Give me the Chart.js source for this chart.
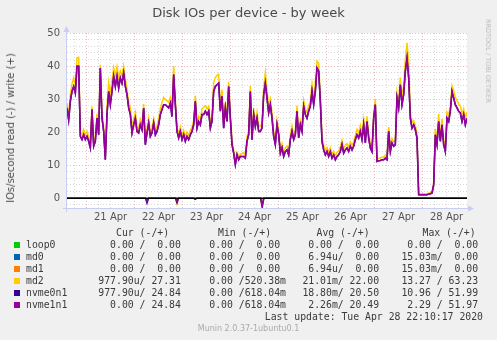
<!DOCTYPE html>
<html>
<head>
<meta charset="utf-8">
<script src="https://cdn.jsdelivr.net/npm/chart.js@4/dist/chart.umd.min.js"></script>
<style>
html, body { margin: 0; padding: 0; background: #f0f0f0; }
#wrap { position: relative; width: 497px; height: 340px; overflow: hidden; font-family: "DejaVu Sans", sans-serif; }
#wrap canvas { position: absolute; left: 0; top: 0; }
.t { position: absolute; white-space: pre; color: #333; line-height: 12px; }
.mono { font-family: "DejaVu Sans Mono", monospace; font-size: 9.8px; color: #3a3a3a; }
.sq { position: absolute; width: 6px; height: 6px; }
</style>
</head>
<body>
<div id="wrap">
  <canvas id="chart" width="497" height="340"></canvas>
  <div class="t" style="left:0;width:497px;top:7px;text-align:center;font-size:13px;color:#4a4a4a">Disk IOs per device - by week</div>
  <div class="t" style="left:11px;top:128px;font-size:10px;color:#4a4a4a;transform:translate(-50%,-50%) rotate(-90deg)">IOs/second read (-) / write (+)</div>
  <div class="t" style="left:488px;top:61px;font-size:6.5px;color:#bbb;transform:translate(-50%,-50%) rotate(90deg)">RRDTOOL / TOBI OETIKER</div>
  <div class="t" style="left:0;width:497px;top:323px;text-align:center;font-size:8px;color:#aaa">Munin 2.0.37-1ubuntu0.1</div>
  <div id="legend"></div>
</div>
<script>
// time axis: hours since 20 Apr 00:00, one sample every 50 minutes
const startHour = 14.2;
const stepHour = 50 / 60;
const xMin = 14.2, xMax = 214.2;

// writes (+), IOs/second
const nvme1n1Write = [
  27.3, 23.7, 29.3, 32.3, 33.8, 31.8, 39.9, 39.9, 18.7, 17.7,
  19.2, 17.7, 18.7, 17.2, 15.2, 26.8, 15.7, 17.2, 24.2, 19.2,
  39.4, 24.2, 20.2, 11.6, 25.3, 32.3, 28.3, 32.3, 36.9, 33.8,
  36.9, 33.3, 36.4, 34.8, 37.9, 33.8, 31.3, 27.3, 25.3, 19.7,
  22.2, 24.2, 20.2, 19.7, 22.2, 20.7, 27.3, 16.2, 19.7, 22.7,
  18.7, 19.7, 22.7, 19.2, 20.2, 22.2, 25.3, 26.8, 28.3, 28.3,
  27.8, 27.3, 28.8, 24.7, 37.4, 28.3, 20.2, 18.2, 20.2, 17.7,
  19.2, 17.2, 18.7, 17.7, 19.2, 20.2, 22.2, 29.3, 21.2, 23.2,
  22.2, 25.3, 25.3, 26.3, 25.3, 26.3, 21.2, 23.2, 32.3, 33.8,
  34.3, 34.8, 26.3, 30.8, 21.2, 27.3, 23.2, 33.8, 24.2, 16.2,
  13.6, 10.1, 13.1, 11.6,
  12.6, 12.6, 12.6, 12.1, 17.2, 19.2, 32.3, 17.7, 25.3, 21.7,
  24.2, 20.2, 20.2, 21.2, 31.3, 34.8, 30.3, 25.8, 28.3, 24.2,
  18.7, 16.2, 22.2, 19.2, 13.6, 15.2, 12.6, 14.1, 14.6, 13.1,
  17.7, 20.2, 17.7, 19.2, 26.3, 18.2, 22.2, 20.2, 27.8, 25.3,
  24.2, 26.3, 27.8, 32.3, 28.3, 32.3, 39.4, 38.4, 29.3, 17.2,
  14.6, 13.1, 14.1, 12.6, 14.1, 12.1, 13.1, 11.6, 12.6, 13.1,
  14.1, 16.2, 13.6, 14.6, 15.2, 14.1, 15.7, 14.6, 15.7, 17.7,
  19.2, 18.2, 20.2, 17.7, 22.2, 16.7, 23.2, 18.2, 15.2, 14.1,
  24.2, 28.3, 11.1, 11.3, 11.4, 11.6, 11.6, 12.1, 11.6, 20.2,
  14.1, 16.7, 15.7, 16.2, 30.3, 27.3, 34.3, 28.3, 31.3, 38.4,
  42.4, 36.4, 24.2, 21.2, 22.2, 20.7, 18.2, 1.0, 1.0, 1.0,
  1.0, 1.0, 1.0, 1.2, 1.3, 1.5, 4.0, 19.2, 16.2, 23.2,
  17.2, 22.2, 16.2, 14.1, 24.2, 23.2, 26.3, 32.3, 30.3, 28.3,
  27.3, 26.3, 25.8, 23.2, 25.3, 22.2, 24.2
];
const nvme0n1Write = nvme1n1Write;
const md2Write = [
  28.8, 25.0, 31.5, 34.5, 36.4, 33.8, 42.4, 42.6, 20.0, 19.2,
  20.8, 19.0, 20.2, 18.5, 16.5, 27.8, 17.0, 18.5, 25.5, 20.5,
  40.4, 25.8, 21.5, 12.5, 27.5, 35.0, 31.5, 35.5, 39.5, 37.0,
  39.8, 36.5, 38.5, 37.0, 39.9, 36.0, 33.0, 29.0, 27.5, 21.0,
  24.0, 26.0, 21.8, 21.2, 23.8, 22.0, 28.5, 17.5, 21.0, 24.2,
  20.0, 21.2, 24.0, 20.5, 21.8, 24.0, 27.0, 29.0, 30.5, 29.8,
  29.5, 29.0, 30.5, 26.5, 40.0, 30.0, 21.5, 19.5, 21.5, 19.0,
  20.5, 18.5, 20.0, 19.0, 20.5, 21.5, 23.5, 31.0, 22.5, 24.8,
  23.8, 27.0, 27.5, 28.0, 27.0, 27.8, 22.5, 25.0, 35.0, 36.5,
  37.2, 37.5, 28.0, 32.8, 22.8, 29.0, 24.5, 35.2, 25.5, 17.5,
  14.5, 11.0, 13.8, 12.5,
  13.3, 13.5, 13.8, 13.0, 18.5, 20.5, 34.0, 19.0, 26.8, 23.0,
  26.0, 21.5, 21.8, 22.5, 33.5, 38.0, 32.5, 28.0, 30.0, 25.8,
  20.0, 17.5, 23.5, 20.5, 14.8, 16.5, 13.8, 15.2, 15.8, 14.2,
  19.0, 21.8, 19.2, 20.5, 28.0, 19.5, 23.5, 21.8, 29.5, 27.0,
  26.0, 28.0, 29.5, 34.5, 30.0, 34.8, 41.5, 40.8, 31.0, 18.5,
  16.0, 14.5, 15.3, 13.8, 15.2, 13.3, 14.2, 12.8, 13.8, 14.3,
  15.5, 17.5, 15.0, 16.0, 16.5, 15.5, 17.0, 16.0, 17.0, 19.0,
  20.8, 19.8, 22.0, 19.5, 23.8, 18.0, 24.8, 19.5, 16.5, 15.3,
  25.5, 30.0, 12.0, 12.0, 12.2, 12.4, 12.5, 13.0, 12.5, 21.5,
  15.3, 18.0, 17.0, 17.5, 32.0, 29.0, 36.5, 30.5, 34.0, 42.0,
  47.0, 41.0, 26.0, 22.8, 23.5, 22.0, 19.5, 1.3, 1.3, 1.3,
  1.3, 1.3, 1.3, 1.5, 1.6, 1.8, 4.5, 21.0, 17.5, 25.5,
  18.5, 24.0, 17.5, 15.5, 26.0, 25.0, 28.0, 34.0, 32.5, 30.5,
  29.5, 28.5, 28.0, 25.5, 27.0, 24.0, 26.0
];

// reads (-), shown below zero; hours and values
const readHours   = [14.2, 53.4, 54.2, 55.0, 68.4, 69.2, 70.0, 77.5, 78.3, 79.2, 111.0, 111.8, 112.6, 214.2];
const md2Read     = [0, 0, -0.4, 0, 0, -1.8, 0, 0, -0.2, 0, 0, -3.0, 0, 0];
const nvme0n1Read = [0, 0, -1.5, 0, 0, -1.4, 0, 0, -0.4, 0, 0, -2.6, 0, 0];
const nvme1n1Read = [0, 0, -0.9, 0, 0, -0.9, 0, 0, -0.2, 0, 0, -2.2, 0, 0];
const idleHours   = [14.2, 214.2];
const idleValues  = [0, 0];

// legend table
const names = ['loop0', 'md0', 'md1', 'md2', 'nvme0n1', 'nvme1n1'];
const colors = ['#00CC00', '#0066B3', '#FF8000', '#FFCC00', '#330099', '#990099'];
const curCol = ['  0.00 /  0.00', '  0.00 /  0.00', '  0.00 /  0.00', '977.90u/ 27.31', '977.90u/ 24.84', '  0.00 / 24.84'];
const minCol = ['  0.00 /  0.00', '  0.00 /  0.00', '  0.00 /  0.00', '  0.00 /520.38m', '  0.00 /618.04m', '  0.00 /618.04m'];
const avgCol = ['  0.00 /  0.00', '  6.94u/  0.00', '  6.94u/  0.00', ' 21.01m/ 22.00', ' 18.80m/ 20.50', '  2.26m/ 20.49'];
const maxCol = ['  0.00 /  0.00', ' 15.03m/  0.00', ' 15.03m/  0.00', ' 13.27 / 63.23', ' 10.96 / 51.99', '  2.29 / 51.97'];
const lastUpdate = 'Last update: Tue Apr 28 22:10:17 2020';

// ticks
const xTickHours = [];
for (let h = 18; h <= 210; h += 6) xTickHours.push(h);
const yTickValues = [];
for (let v = -2; v <= 50; v += 2) yTickValues.push(v);

function series(values) {
  return values.map((v, i) => ({ x: startHour + i * stepHour, y: v }));
}
function pairs(hours, values) {
  return hours.map((h, i) => ({ x: h, y: values[i] }));
}
function line(label, color, data) {
  return { label: label, data: data, borderColor: color, backgroundColor: color,
           borderWidth: 1.5, pointRadius: 0, fill: false, tension: 0 };
}

const majorGrid = 'rgba(230, 130, 130, 0.55)';
const minorGrid = 'rgba(185, 185, 185, 0.55)';

const muninPlugin = {
  id: 'munin',
  beforeDraw(chart) {
    const { ctx, chartArea: a } = chart;
    ctx.save();
    ctx.fillStyle = '#f0f0f0';
    ctx.fillRect(0, 0, chart.width, chart.height);
    ctx.fillStyle = '#ffffff';
    ctx.fillRect(a.left, a.top, a.right - a.left, a.bottom - a.top);
    ctx.restore();
  },
  afterDatasetsDraw(chart) {
    const { ctx, chartArea: a, scales: { y } } = chart;
    const y0 = Math.round(y.getPixelForValue(0)) + 0.5;
    ctx.save();
    ctx.strokeStyle = '#000';
    ctx.lineWidth = 1;
    ctx.beginPath();
    ctx.moveTo(a.left, y0);
    ctx.lineTo(a.right, y0);
    ctx.stroke();
    // axes with arrows
    ctx.strokeStyle = '#c8cdf2';
    ctx.fillStyle = '#c8cdf2';
    const xb = Math.round(a.bottom) + 0.5;
    const xl = Math.round(a.left) - 0.5;
    ctx.beginPath();
    ctx.moveTo(a.left - 4, xb);
    ctx.lineTo(a.right + 1, xb);
    ctx.moveTo(xl, a.bottom + 4);
    ctx.lineTo(xl, a.top - 1);
    ctx.stroke();
    ctx.beginPath();
    ctx.moveTo(a.right + 1, xb - 3);
    ctx.lineTo(a.right + 7, xb);
    ctx.lineTo(a.right + 1, xb + 3);
    ctx.closePath();
    ctx.fill();
    ctx.beginPath();
    ctx.moveTo(xl - 3, a.top - 1);
    ctx.lineTo(xl, a.top - 7);
    ctx.lineTo(xl + 3, a.top - 1);
    ctx.closePath();
    ctx.fill();
    ctx.restore();
  }
};

new Chart(document.getElementById('chart').getContext('2d'), {
  type: 'line',
  data: {
    datasets: [
      line('nvme1n1', colors[5], series(nvme1n1Write)),
      line('nvme1n1 read', colors[5], pairs(readHours, nvme1n1Read)),
      line('nvme0n1', colors[4], series(nvme0n1Write)),
      line('nvme0n1 read', colors[4], pairs(readHours, nvme0n1Read)),
      line('md2', colors[3], series(md2Write)),
      line('md2 read', colors[3], pairs(readHours, md2Read)),
      line('md1', colors[2], pairs(idleHours, idleValues)),
      line('md0', colors[1], pairs(idleHours, idleValues)),
      line('loop0', colors[0], pairs(idleHours, idleValues))
    ]
  },
  options: {
    responsive: false,
    animation: false,
    layout: { padding: { top: 33, right: 30, left: 0, bottom: 0 } },
    plugins: { legend: { display: false }, title: { display: false }, tooltip: { enabled: false } },
    scales: {
      x: {
        type: 'linear',
        min: xMin,
        max: xMax,
        afterBuildTicks: s => { s.ticks = xTickHours.map(v => ({ value: v })); },
        afterFit: s => { s.height = 132; },
        ticks: {
          autoSkip: false,
          maxRotation: 0,
          padding: 3,
          color: '#555',
          font: { family: 'DejaVu Sans', size: 10 },
          callback: v => (v % 24 === 12 ? (20 + Math.floor(v / 24)) + ' Apr' : '')
        },
        grid: {
          drawTicks: false,
          color: c => (c.tick && c.tick.value % 24 === 0 ? majorGrid : minorGrid)
        },
        border: { display: false, dash: [1, 2] }
      },
      y: {
        min: -3,
        max: 50,
        afterBuildTicks: s => { s.ticks = yTickValues.map(v => ({ value: v })); },
        afterFit: s => { s.width = 67; },
        ticks: {
          autoSkip: false,
          padding: 7,
          color: '#555',
          font: { family: 'DejaVu Sans', size: 10 },
          callback: v => (v % 10 === 0 ? String(v) : '')
        },
        grid: {
          drawTicks: false,
          color: c => (c.tick && c.tick.value % 10 === 0 ? majorGrid : minorGrid)
        },
        border: { display: false, dash: [1, 2] }
      }
    }
  },
  plugins: [muninPlugin]
});

// legend table as text
const legend = document.getElementById('legend');
function addText(txt, left, top, extra) {
  const d = document.createElement('div');
  d.className = 't mono';
  d.style.left = left + 'px';
  d.style.top = top + 'px';
  if (extra) Object.assign(d.style, extra);
  d.textContent = txt;
  legend.appendChild(d);
}
addText('Cur (-/+)', 116, 227);
addText('Min (-/+)', 218, 227);
addText('Avg (-/+)', 316.5, 227);
addText('Max (-/+)', 422.5, 227);
names.forEach((n, i) => {
  const top = 239 + i * 12;
  const sq = document.createElement('div');
  sq.className = 'sq';
  sq.style.left = '14px';
  sq.style.top = (top + 3) + 'px';
  sq.style.background = colors[i];
  legend.appendChild(sq);
  addText(n, 26, top);
  addText(curCol[i], 98.3, top);
  addText(minCol[i], 197.5, top);
  addText(avgCol[i], 296.5, top);
  addText(maxCol[i], 395.5, top);
});
addText(lastUpdate, 0, 311, { left: 'auto', right: '14px' });
</script>
</body>
</html>
